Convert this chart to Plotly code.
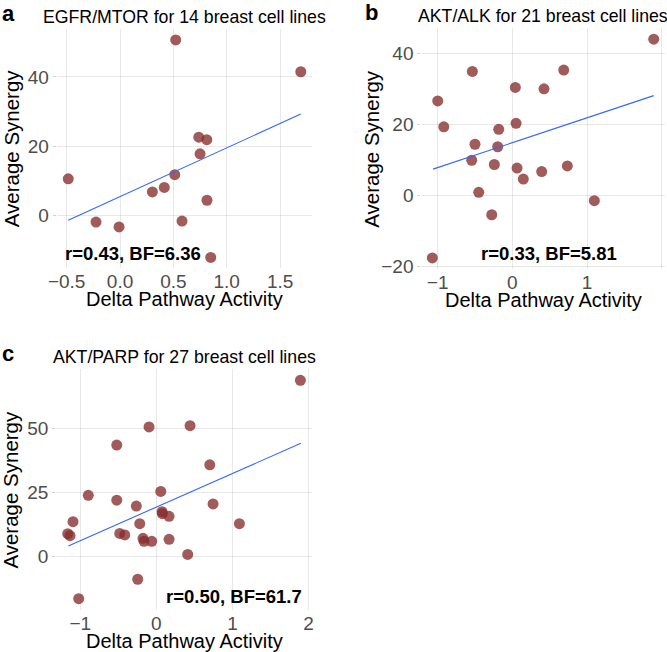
import plotly.graph_objects as go

# panel a: EGFR/MTOR
a_delta = [0.522, 1.694, 0.738, 0.813, 0.750, 0.513, -0.485, 0.415, 0.303, 0.815, -0.225, 0.581, -0.009, 0.850]
a_synergy = [50.7, 41.5, 22.6, 21.9, 17.8, 11.8, 10.6, 8.1, 6.8, 4.4, -1.9, -1.6, -3.3, -12.1]
a_fit_x = [-0.485, 1.694]
a_fit_y = [-1.4, 29.3]

# panel b: AKT/ALK
b_delta = [1.893, -0.535, 0.688, 0.04, 0.424, -0.999, -0.918, 0.05, -0.182, -0.5, -0.196,
           -0.544, -0.241, 0.063, 0.736, 0.393, 0.147, -0.45, 1.098, -0.276, -1.071]
b_synergy = [44.1, 35.0, 35.4, 30.5, 30.1, 26.7, 19.4, 20.4, 18.7, 14.5, 13.8,
             10.0, 8.8, 7.8, 8.4, 6.8, 4.7, 0.95, -1.4, -5.35, -17.5]
b_fit_x = [-1.062, 1.893]
b_fit_y = [7.5, 28.2]

# panel c: AKT/PARP
c_delta = [1.892, 0.443, -0.096, -0.520, 0.702, 0.058, -0.894, -0.520, 0.745, -0.263, 0.075,
           0.079, 0.167, -1.095, 1.091, -0.218, -1.164, -1.134, -0.481, -0.415, -0.175,
           -0.162, -0.060, 0.167, 0.412, -0.245, -1.02]
c_synergy = [68.9, 51.2, 50.7, 43.6, 35.9, 25.5, 24.0, 22.1, 20.6, 19.8, 17.6,
             16.8, 15.8, 13.7, 12.9, 12.9, 9.0, 8.2, 9.1, 8.5, 7.2,
             6.0, 6.0, 6.8, 0.9, -8.8, -16.4]
c_fit_x = [-1.156, 1.898]
c_fit_y = [4.2, 44.3]

panels = [
    dict(key="a", title="EGFR/MTOR for 14 breast cell lines", x=a_delta, y=a_synergy,
         fx=a_fit_x, fy=a_fit_y, stat="r=0.43, BF=6.36", stat_xy=(0.122, -11.0),
         xdom=[0.0849, 0.4684], ydom=[0.5885, 0.9555], xticks=[-0.5, 0.0, 0.5, 1.0, 1.5],
         xfmt=".1f", yticks=[0, 20, 40], ytitle_gap=45),
    dict(key="b", title="AKT/ALK for 21 breast cell lines", x=b_delta, y=b_synergy,
         fx=b_fit_x, fy=b_fit_y, stat="r=0.33, BF=5.81", stat_xy=(0.49, -16.2),
         xdom=[0.6316, 0.9967], ydom=[0.5877, 0.9567], xticks=[-1, 0, 1, 2],
         xfmt="d", yticks=[-20, 0, 20, 40], ytitle_gap=50),
    dict(key="c", title="AKT/PARP for 27 breast cell lines", x=c_delta, y=c_synergy,
         fx=c_fit_x, fy=c_fit_y, stat="r=0.50, BF=61.7", stat_xy=(1.017, -15.7),
         xdom=[0.0841, 0.4678], ydom=[0.065, 0.4334], xticks=[-1, 0, 1, 2],
         xfmt="d", yticks=[0, 25, 50], ytitle_gap=46),
]

FONT = "Liberation Sans, Arial, sans-serif"
GRID = "rgba(0,0,0,0.09)"
TICK = "rgba(0,0,0,0.18)"

fig = go.Figure()
annotations = []
W, H = 667, 652

for i, p in enumerate(panels):
    n = "" if i == 0 else str(i + 1)
    xa, ya = "x" + n, "y" + n

    fig.add_trace(go.Scatter(
        x=p["x"], y=p["y"], mode="markers", xaxis=xa, yaxis=ya,
        marker=dict(size=11, color="rgba(135,45,45,0.78)", line=dict(width=0)),
        showlegend=False,
    ))
    fig.add_trace(go.Scatter(
        x=p["fx"], y=p["fy"], mode="lines", xaxis=xa, yaxis=ya,
        line=dict(color="#3366FF", width=1.1), showlegend=False,
    ))

    xr = [min(p["x"]), max(p["x"])]
    yr = [min(p["y"]), max(p["y"])]
    xpad = (xr[1] - xr[0]) * 0.05
    ypad = (yr[1] - yr[0]) * 0.05

    axis_common = dict(
        showgrid=True, gridcolor=GRID, zeroline=False, showline=False, automargin=False,
        tickfont=dict(family=FONT, size=19, color="#4D4D4D"),
    )
    fig.update_layout({
        "xaxis" + n: dict(
            domain=p["xdom"], anchor=ya, range=[xr[0] - xpad, xr[1] + xpad],
            tickvals=p["xticks"], tickformat=p["xfmt"], ticks="", **axis_common,
        ),
        "yaxis" + n: dict(
            domain=p["ydom"], anchor=xa, range=[yr[0] - ypad, yr[1] + ypad],
            tickvals=p["yticks"], ticks="outside", ticklen=3, tickcolor=TICK,
            tickwidth=1, **axis_common,
        ),
    })

    left_px = p["xdom"][0] * W
    top_px = (1 - p["ydom"][1]) * H
    bottom_px = (1 - p["ydom"][0]) * H

    # axis titles
    annotations.append(dict(
        text="Delta Pathway Activity", xref="paper", yref="paper",
        x=sum(p["xdom"]) / 2, y=1 - (bottom_px + 31) / H,
        xanchor="center", yanchor="middle", showarrow=False,
        font=dict(family=FONT, size=20, color="black"),
    ))
    annotations.append(dict(
        text="Average Synergy", xref="paper", yref="paper", textangle=-90,
        x=(left_px - p["ytitle_gap"]) / W, y=sum(p["ydom"]) / 2,
        xanchor="center", yanchor="middle", showarrow=False,
        font=dict(family=FONT, size=20.5, color="black"),
    ))
    # panel title, centred over the plot area
    annotations.append(dict(
        text=p["title"], xref="paper", yref="paper",
        x=sum(p["xdom"]) / 2, y=1 - (top_px - 12) / H,
        xanchor="center", yanchor="middle", showarrow=False,
        font=dict(family=FONT, size=17.7, color="black"),
    ))
    # panel letter
    annotations.append(dict(
        text="<b>%s</b>" % p["key"], xref="paper", yref="paper",
        x=max(0, p["xdom"][0] - 58 / W), y=1 - (top_px - 16) / H,
        xanchor="left", yanchor="middle", showarrow=False,
        font=dict(family=FONT, size=22, color="black"),
    ))
    # correlation stats
    annotations.append(dict(
        text="<b>%s</b>" % p["stat"], xref=xa, yref=ya,
        x=p["stat_xy"][0], y=p["stat_xy"][1], showarrow=False,
        xanchor="center", yanchor="middle",
        font=dict(family=FONT, size=18.5, color="black"),
    ))

fig.update_layout(
    width=W, height=H,
    margin=dict(l=0, r=0, t=0, b=0),
    plot_bgcolor="white", paper_bgcolor="white",
    annotations=annotations,
    font=dict(family=FONT),
)

# drop the browser's default 8px body margin so the figure fills the window
fig.write_html(
    "out.html",
    config={"displayModeBar": False},
    post_script="document.body.style.margin='0';",
)
